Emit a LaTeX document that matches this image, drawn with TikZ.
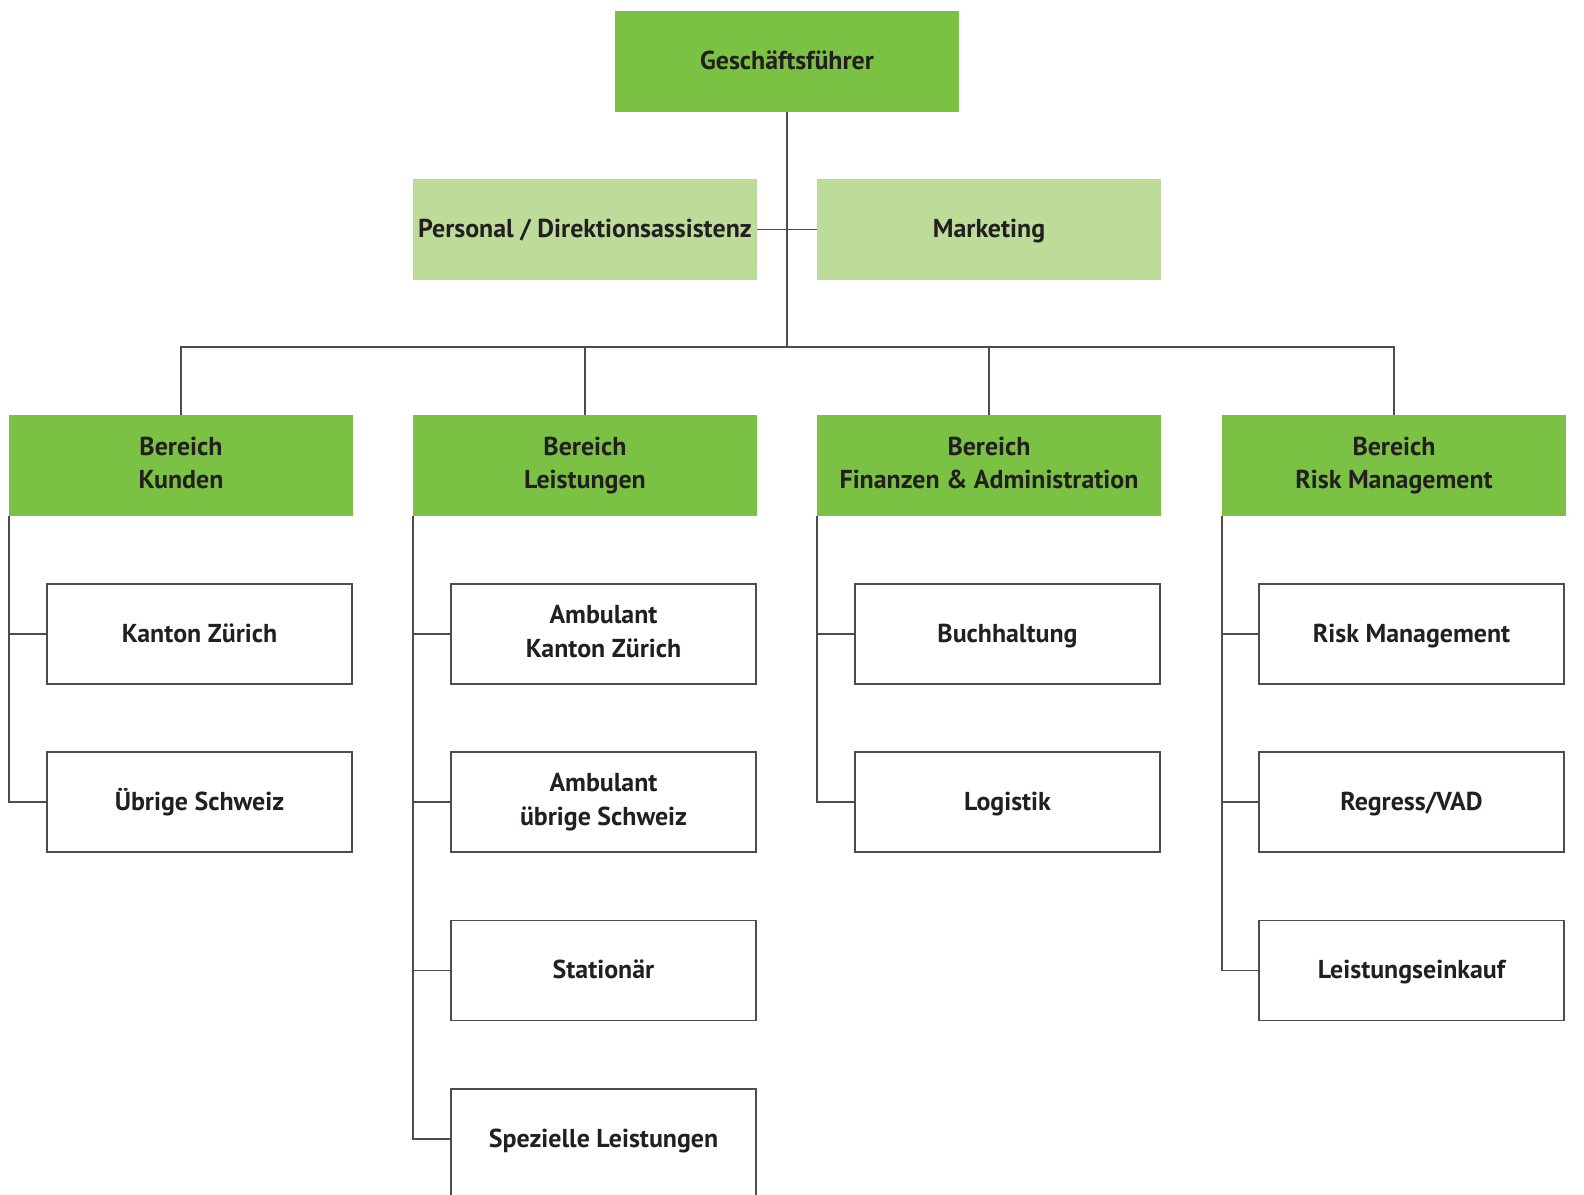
\documentclass[tikz,border=0pt]{standalone}
\usepackage{fontspec}
\setmainfont{PT Sans}
\newcommand{\lineeq}{\vphantom{Äg}}
\begin{document}
\begin{tikzpicture}[x=1bp,y=-1bp,
  every node/.style={font=\bfseries\fontsize{26}{34}\selectfont, text=txt, align=center, inner sep=0pt, outer sep=0pt,
    execute at begin node=\lineeq, execute at end node=\lineeq},
  top/.style={fill=dgreen, minimum width=344bp, minimum height=101bp},
  staff/.style={fill=lgreen, minimum width=344bp, minimum height=101bp},
  area/.style={fill=dgreen, minimum width=344bp, minimum height=101bp},
  unit/.style={draw=lc, line width=1.4bp, fill=white, minimum width=305bp, minimum height=100bp},
  conn/.style={draw=lc, line width=1.2bp}]
\definecolor{dgreen}{HTML}{7BC143}
\definecolor{lgreen}{HTML}{BDDC9A}
\definecolor{txt}{HTML}{231F20}
\definecolor{lc}{HTML}{4D4D4D}
\useasboundingbox (0,0) rectangle (1584,1194);
\clip (0,0) rectangle (1584,1194);
% top
\node[top] (gf) at (787,61.5) {Geschäftsführer};
\node[staff] (pers) at (585,229.5) {Personal / Direktionsassistenz};
\node[staff] (mkt) at (989,229.5) {Marketing};
\coordinate (bus) at (787,347);
% areas
\node[area] (a1) at (181,465.5) {Bereich\\Kunden};
\node[area] (a2) at (585,465.5) {Bereich\\Leistungen};
\node[area] (a3) at (989,465.5) {Bereich\\Finanzen \& Administration};
\node[area] (a4) at (1394,465.5) {Bereich\\Risk Management};
% units
\node[unit] (k1) at (199.5,634) {Kanton Zürich};
\node[unit] (k2) at (199.5,802) {Übrige Schweiz};
\node[unit] (l1) at (603.5,634) {Ambulant\\Kanton Zürich};
\node[unit] (l2) at (603.5,802) {Ambulant\\übrige Schweiz};
\node[unit] (l3) at (603.5,970.5) {Stationär};
\node[unit, minimum height=120bp] (l4) at (603.5,1149) {};
\node (l4t) at (603.5,1139) {Spezielle Leistungen};
\node[unit] (f1) at (1007.5,634) {Buchhaltung};
\node[unit] (f2) at (1007.5,802) {Logistik};
\node[unit] (r1) at (1411.5,634) {Risk Management};
\node[unit] (r2) at (1411.5,802) {Regress/VAD};
\node[unit] (r3) at (1411.5,970.5) {Leistungseinkauf};
% connectors
\draw[conn] (gf.south) -- (bus);
\draw[conn] (pers.east) -- (mkt.west);
\draw[conn] (a1.north) |- (bus) -| (a4.north);
\draw[conn] (a2.north) -- (a2.north |- bus);
\draw[conn] (a3.north) -- (a3.north |- bus);
% branch lines
\draw[conn] (a1.south west) |- (k2.west);
\draw[conn] (a1.south west |- k1.west) -- (k1.west);
\draw[conn] (a2.south west) |- (l4.west |- l4t);
\draw[conn] (a2.south west |- l1.west) -- (l1.west);
\draw[conn] (a2.south west |- l2.west) -- (l2.west);
\draw[conn] (a2.south west |- l3.west) -- (l3.west);
\draw[conn] (a3.south west) |- (f2.west);
\draw[conn] (a3.south west |- f1.west) -- (f1.west);
\draw[conn] (a4.south west) |- (r3.west);
\draw[conn] (a4.south west |- r1.west) -- (r1.west);
\draw[conn] (a4.south west |- r2.west) -- (r2.west);
\end{tikzpicture}
\end{document}
